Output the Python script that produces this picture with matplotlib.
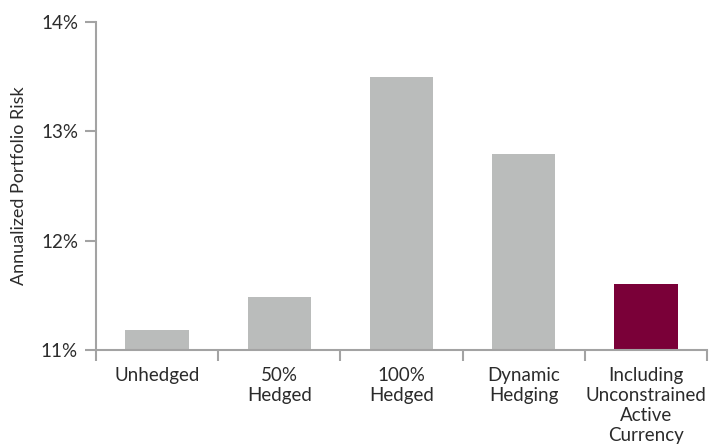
import matplotlib.pyplot as plt
import numpy as np

# Riesgo anual de la cartera por estrategia de cobertura
categorias = ['Unhedged', '50%\nHedged', '100%\nHedged', 'Dynamic\nHedging',
              'Including\nUnconstrained\nActive\nCurrency']
riesgo = [11.18, 11.48, 13.50, 12.79, 11.60]
colores = ['#babcbb', '#babcbb', '#babcbb', '#babcbb', '#7a0038']
ticks_y = [11, 12, 13, 14]

plt.rcParams['font.family'] = ['Lato', 'DejaVu Sans']

fig = plt.figure(figsize=(7.22, 4.44), dpi=100)
ax = fig.add_axes([0.133, 0.212, 0.846, 0.738])

x = np.arange(len(categorias))
ax.bar(x, riesgo, width=0.52, color=colores, bottom=0)

ax.set_xlim(-0.5, len(categorias) - 0.5)
ax.set_ylim(11, 14)
ax.set_yticks(ticks_y)
ax.set_yticklabels([f'{v}%' for v in ticks_y])
ax.set_xticks(x)
ax.set_xticklabels(categorias, linespacing=1.23)
ax.set_xticks(np.arange(-0.5, len(categorias)), minor=True)

color_eje = '#a3a3a3'
color_texto = '#2b2b2b'
for lado in ['top', 'right']:
    ax.spines[lado].set_visible(False)
for lado in ['left', 'bottom']:
    ax.spines[lado].set_color(color_eje)
    ax.spines[lado].set_linewidth(1.5)

ax.tick_params(axis='x', which='major', length=0, pad=12, labelsize=13.5, labelcolor=color_texto)
ax.tick_params(axis='x', which='minor', length=8, width=1.5, color=color_eje)
ax.tick_params(axis='y', length=8, width=1.5, color=color_eje, labelsize=13.5,
               labelcolor=color_texto, pad=5)

ax.set_ylabel('Annualized Portfolio Risk', fontsize=13, color=color_texto, labelpad=10)

plt.savefig('out.png', dpi=100)
